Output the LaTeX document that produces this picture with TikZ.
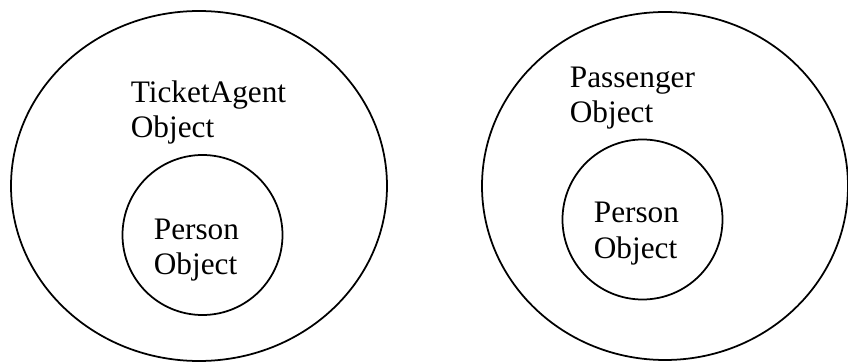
\documentclass[tikz,border=0pt]{standalone}
\usepackage{fontspec}
\setmainfont{Liberation Serif}
\usetikzlibrary{positioning}

\tikzset{
  objlabel/.style={inner sep=0pt, align=left, anchor=base west,
    font=\fontsize{17.8}{20.4}\selectfont},
}

\begin{document}
\begin{tikzpicture}[line width=1pt]
	\useasboundingbox (0,0) rectangle (16.96,7.24);
	% ticket agent holding a person
	\draw (3.98,3.52) ellipse [x radius = 3.76cm, y radius = 3.50cm];
	\draw (4.05,2.54) circle [radius = 1.60cm];
	\node[objlabel] (agent) at (2.60,4.48) {TicketAgent\\Object};
	\node[objlabel] (agentperson) at (3.06,1.74) {Person\\Object};
	
	% passenger holding a person
	\draw (13.30,3.52) ellipse [x radius = 3.66cm, y radius = 3.48cm];
	\draw (12.85,2.85) circle [radius = 1.60cm];
	\node[objlabel] (passenger) at (11.38,4.78) {Passenger\\Object};
	\node[objlabel] (passperson) at (11.86,2.08) {Person\\Object};
\end{tikzpicture}
\end{document}
